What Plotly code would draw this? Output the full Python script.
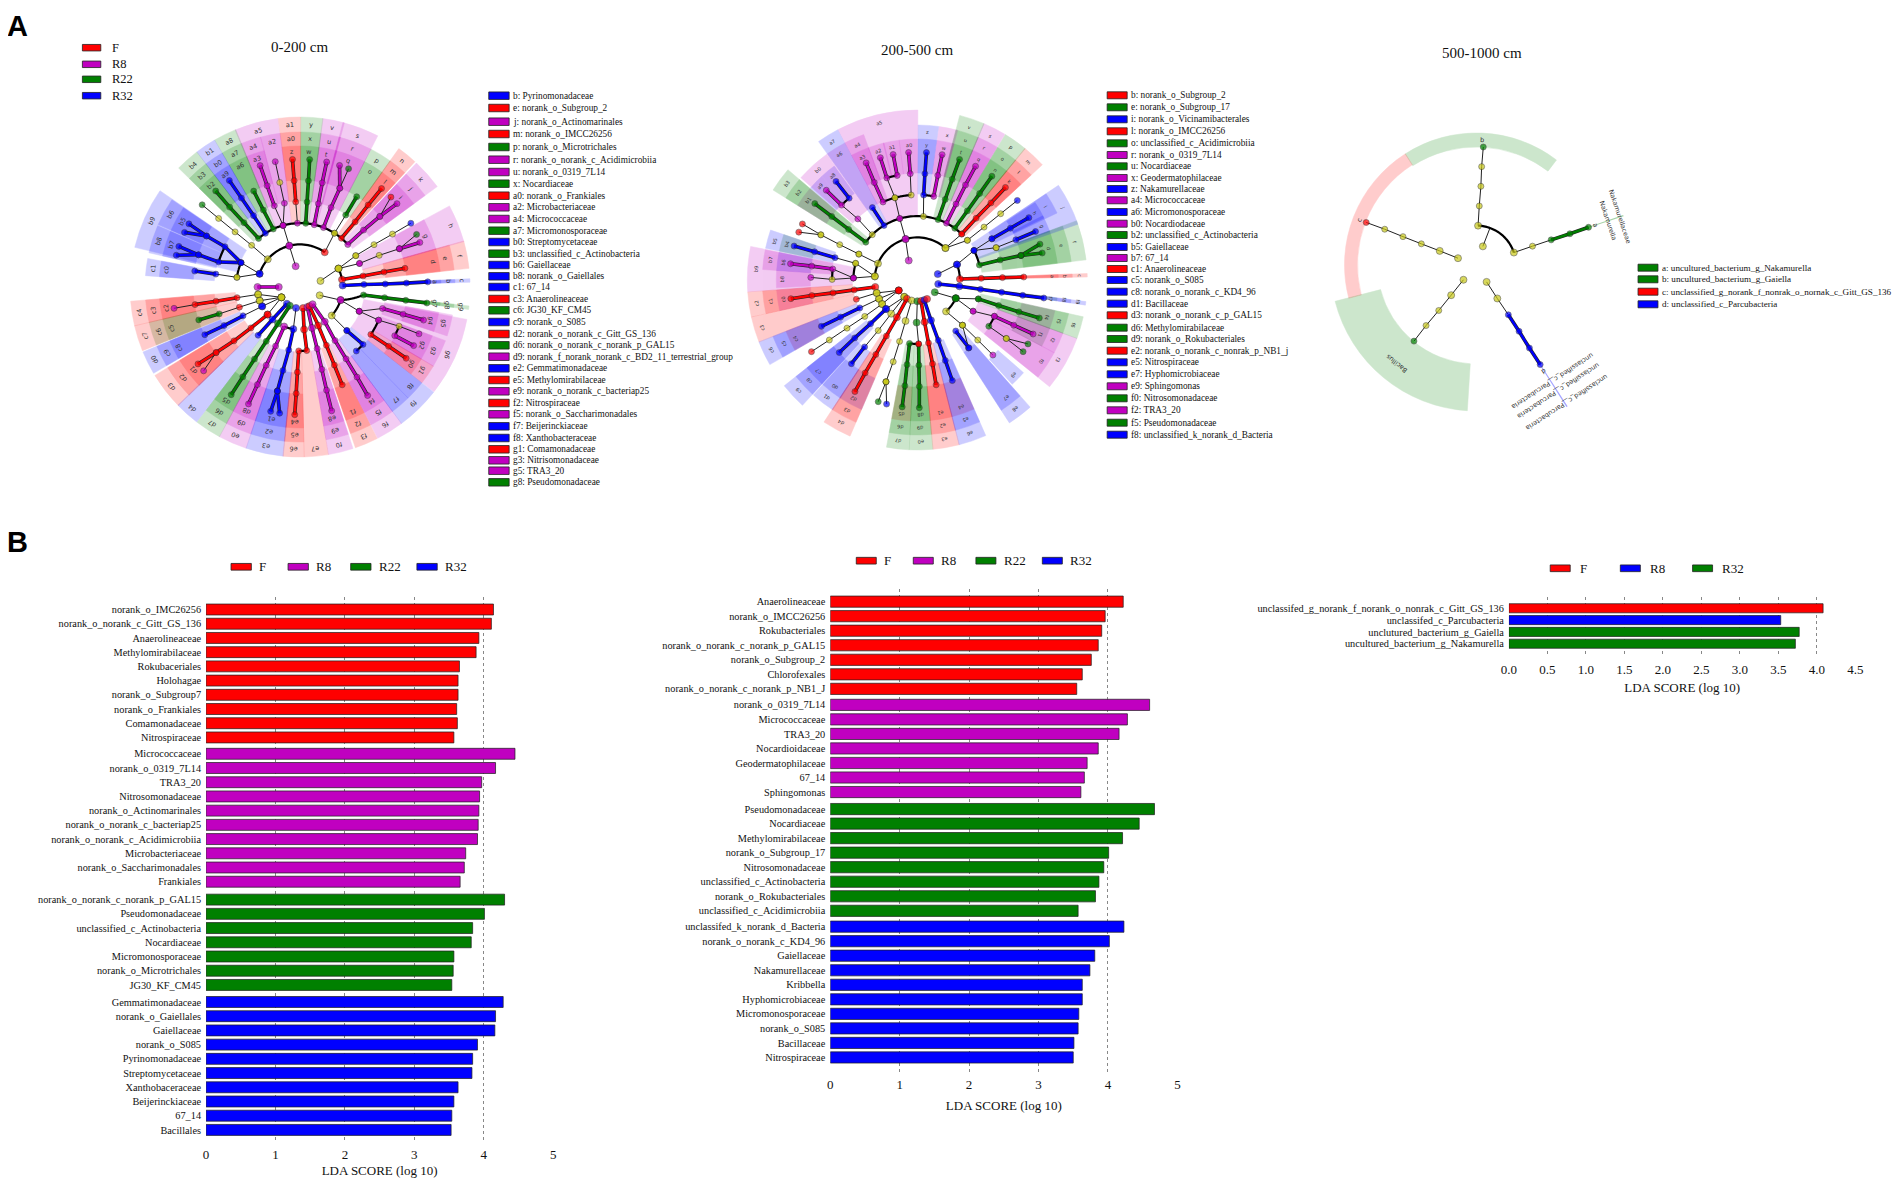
import numpy as np
import plotly.graph_objects as go

# the page body keeps its 8px margin
W, H = 1902, 1186
PAD = 8
FIG_W = W - PAD
FIG_H = H - 2 * PAD
XS = 0.9912  # horizontal calibration against the reference
XO = 8.1
SERIF = "Liberation Serif"
SANS = "DejaVu Sans"
colors = {"r": "#ff0000", "p": "#c000c0", "g": "#008000", "b": "#0000ff", "y": "#c8c818"}

# ---------- LDA bars ----------
b1_names = [["norank_o_IMC26256", "norank_o_norank_c_Gitt_GS_136", "Anaerolineaceae", "Methylomirabilaceae", "Rokubaceriales",
             "Holohagae", "norank_o_Subgroup7", "norank_o_Frankiales", "Comamonadaceae", "Nitrospiraceae"],
            ["Micrococcaceae", "norank_o_0319_7L14", "TRA3_20", "Nitrosomonadaceae", "norank_o_Actinomarinales",
             "norank_o_norank_c_bacteriap25", "norank_o_norank_c_Acidimicrobiia", "Microbacteriaceae",
             "norank_o_Saccharimonadales", "Frankiales"],
            ["norank_o_norank_c_norank_p_GAL15", "Pseudomonadaceae", "unclassified_c_Actinobacteria", "Nocardiaceae",
             "Micromonosporaceae", "norank_o_Microtrichales", "JG30_KF_CM45"],
            ["Gemmatimonadaceae", "norank_o_Gaiellales", "Gaiellaceae", "norank_o_S085", "Pyrinomonadaceae",
             "Streptomycetaceae", "Xanthobaceraceae", "Beijerinckiaceae", "67_14", "Bacillales"]]
b1_vals = [[4.14, 4.11, 3.93, 3.89, 3.65, 3.63, 3.63, 3.61, 3.62, 3.57],
           [4.45, 4.17, 3.97, 3.94, 3.93, 3.92, 3.91, 3.74, 3.72, 3.66],
           [4.30, 4.01, 3.84, 3.82, 3.57, 3.56, 3.54],
           [4.28, 4.17, 4.16, 3.91, 3.84, 3.83, 3.63, 3.57, 3.54, 3.53]]
b1_gaps = [0.0, 0.15, 0.26, 0.2]

b2_names = [["Anaerolineaceae", "norank_o_IMCC26256", "Rokubacteriales", "norank_o_norank_c_norank_p_GAL15", "norank_o_Subgroup_2",
             "Chlorofexales", "norank_o_norank_c_norank_p_NB1_J"],
            ["norank_o_0319_7L14", "Micrococcaceae", "TRA3_20", "Nocardioidaceae", "Geodermatophilaceae", "67_14", "Sphingomonas"],
            ["Pseudomonadaceae", "Nocardiaceae", "Methylomirabilaceae", "norank_o_Subgroup_17", "Nitrosomonadaceae",
             "unclassified_c_Actinobacteria", "norank_o_Rokubacteriales", "unclassified_c_Acidimicrobiia"],
            ["unclassifed_k_norank_d_Bacteria", "norank_o_norank_c_KD4_96", "Gaiellaceae", "Nakamurellaceae", "Kribbella",
             "Hyphomicrobiaceae", "Micromonosporaceae", "norank_o_S085", "Bacillaceae", "Nitrospiraceae"]]
b2_vals = [[4.22, 3.96, 3.91, 3.86, 3.76, 3.63, 3.55],
           [4.60, 4.28, 4.16, 3.86, 3.70, 3.66, 3.61],
           [4.67, 4.45, 4.21, 4.01, 3.94, 3.87, 3.82, 3.57],
           [4.23, 4.02, 3.81, 3.74, 3.63, 3.63, 3.58, 3.57, 3.51, 3.50]]
b2_gaps = [0.0, 0.1, 0.17, 0.09]

b3_names = [["unclassifed_g_norank_f_norank_o_nonrak_c_Gitt_GS_136"], ["unclassifed_c_Parcubacteria"],
            ["unclutured_bacterium_g_Gaiella", "uncultured_bacterium_g_Nakamurella"]]
b3_vals = [[4.08], [3.53], [3.77, 3.72]]
b3_gaps = [0.0, 0.0, 0.0]

# ---------- cladogram 0-200 cm: highlighted sectors ----------
c1_label = ("a b c d e f g h i j k l m n o p q r s t u v w x y z a0 a1 a2 a3 a4 a5 a6 a7 a8 a9 b0 b1 b2 b3 b4 b5 b6 b7 b8 b9 c0 c1 "
            "c2 c3 c4 c5 c6 c7 c8 c9 d0 d1 d2 d3 d4 d5 d6 d7 d8 d9 e0 e1 e2 e3 e4 e5 e6 e7 e8 e9 f0 f1 f2 f3 f4 f5 f6 f7 f8 f9 "
            "g0 g1 g2 g3 g4 g5 g6 g7 g8 g9").split()
c1_theta = [87.8, 87.8, 87.8, 79, 79, 79, 68, 68, 48.5, 48.5, 48.5, 39, 39, 39, 31.4, 31.4, 20.9, 20.9, 20.9,
            11.4, 11.4, 11.4, 4, 4, 4, -3.6, -3.6, -3.6, -11.1, -18.5, -18.5, -15, -26.2, -26.2, -26.2,
            -33.8, -33.8, -33.8, -41.5, -41.5, -41.5, -61, -61, -72, -72, -66, -82.6, -82.6,
            -99, -99, -99, -107.6, -107.6, -107.6, -116.5, -116.5, -116.5, -127.8, -127.8, -127.8, -138.3,
            -147.2, -147.2, -147.2, -156.6, -156.6, -156.6, -167.9, -167.9, -167.9, -177.8, -177.8, -177.8, 174.5,
            166.1, 166.1, 166.1, 157, 157, 157, 148.1, 148.1, 148.1, 139.6, 132, 135.8,
            124.4, 124.4, 115.5, 115.5, 104.4, 104.4, 114.5, 97, 97, 97]
c1_width = [1.2, 1.2, 1.2, 9.4, 9.4, 9.4, 13, 13, 10.6, 10.6, 10.6, 7, 7, 7, 8.4, 8.4, 12.6, 12.6, 12.6,
            7.4, 7.4, 7.4, 7.5, 7.5, 7.5, 7.6, 7.6, 7.6, 7.4, 7.5, 7.5, 14.9, 7.9, 7.9, 7.9,
            7.2, 7.2, 7.2, 8.2, 8.2, 8.2, 10.5, 10.5, 10.5, 10.5, 21, 6.4, 6.4,
            8.4, 8.4, 8.4, 8.8, 8.8, 8.8, 8, 8, 8, 12.9, 12.9, 12.9, 8.5,
            9, 9, 9, 9.8, 9.8, 9.8, 12.8, 12.8, 12.8, 7.2, 7.2, 7.2, 8.2,
            8.5, 8.5, 8.5, 8, 8, 8, 9.4, 9.4, 9.4, 7.6, 7.6, 15.2,
            7.5, 7.5, 10.5, 10.5, 8, 8, 27, 1.2, 1.2, 1.2]
c1_row = [1, 2, 3, 1, 2, 3, 1, 3, 1, 2, 3, 1, 2, 3, 1, 2, 1, 2, 3,
          1, 2, 3, 1, 2, 3, 1, 2, 3, 2, 1, 2, 3, 1, 2, 3,
          1, 2, 3, 1, 2, 3, 1, 2, 1, 2, 3, 1, 2,
          1, 2, 3, 1, 2, 3, 1, 2, 3, 1, 2, 3, 3,
          1, 2, 3, 1, 2, 3, 1, 2, 3, 1, 2, 3, 3,
          1, 2, 3, 1, 2, 3, 1, 2, 3, 2, 2, 3,
          1, 2, 1, 2, 1, 2, 3, 1, 2, 3]
c1_group = ("bbb rrr pp ppp rrr gg ppp ppp ggg rrr p pp p ggg bbb ggg bb bb b bb "
            "rrr ggr bbb rrr b ggg ppp bbb rrr r ppp rrr ppp bb b rr pp pp p ggg").replace(" ", "")

# tree: node colours (upper case = thick branch into that node), first level, angle of each node
c1_chains = [("yyyyg", 2, [-49.3, -49.3, -49.7, -49.9, -50]), ("gGGG", 3, [-40.5, -41.1, -41.4, -41.3]),
             ("bBBB", 3, [-32.9, -33.1, -33.4, -33.6]), ("gGG", 3, [-24.8, -25.5, -25.8]),
             ("pp", 1, [-12, -14.6]), ("pp", 2, [-14.6, -15.4]), ("ppPP", 3, [-15.4, -17.6, -18, -18.2]),
             ("ppyp", 3, [-15.4, -10.6, -11, -11.2]), ("prRR", 3, [-2.4, -2.9, -3.2, -3.4]),
             ("gGGG", 3, [5.1, 4.7, 4.5, 4.3]), ("pPPP", 3, [12.8, 12.4, 12, 12]), ("pPPP", 3, [21.5, 21.3, 21.9, 18]),
             ("pg", 5, [21.9, 22.3]), ("ry", 2, [35.4, 32.6]), ("ygG", 3, [32.6, 32.4, 32.1]),
             ("rRRR", 3, [40.3, 40.2, 39.7, 39.6]), ("pPPP", 3, [48.3, 48.1, 48.5, 49.3]), ("pr", 5, [48.5, 45.3]),
             ("by", 2, [-71.9, -81.3]), ("bb", 2, [-71.9, -67.6]), ("bBBB", 3, [-67.6, -61.8, -61.4, -60.4]),
             ("bB", 5, [-61.4, -64.7]), ("bBBB", 3, [-67.6, -72.9, -72.4, -71.5]), ("bB", 5, [-72.4, -75.6]),
             ("ybB", 3, [-81.3, -81.3, -81.4]), ("yy", 1, [73.4, 64.4]), ("yy", 2, [64.4, 60.6]),
             ("yyyb", 3, [60.6, 60.2, 60.2, 60.1]), ("yp", 2, [64.4, 68.4]), ("pyp", 3, [68.4, 68.2, 68.9]),
             ("pg", 5, [68.9, 65.7]), ("pP", 5, [68.9, 69.6]), ("rRRR", 2, [80, 80.1, 79.9, 79.9]),
             ("bBBBB", 2, [88, 87.7, 88, 87.9, 87.7]), ("gGGG", 3, [97.2, 97.2, 97.2, 97.2]), ("yp", 1, [113, 107.9]),
             ("pp", 2, [107.9, 112.3]), ("yb", 2, [132, 133]), ("bB", 3, [133, 132.4]), ("b", 4, [138.7]),
             ("ppPP", 3, [112.3, 104.6, 104.8, 105]), ("pp", 3, [112.3, 112.9]), ("pyp", 4, [112.9, 111.6, 111.5]),
             ("pP", 5, [117.2, 117.3]), ("rRR", 4, [123.8, 123.8, 123.9]), ("pP", 1, [-90, -90]),
             ("yy", 1, [-119, -100]), ("yy", 1, [-119, -108.7]), ("yb", 1, [-119, -117]), ("yr", 1, [-119, -130.3]),
             ("yrRRp", 2, [-100, -99.6, -99.6, -99.5, -99.6]), ("yrgG", 2, [-108.7, -108.4, -108.4, -108]),
             ("bbBB", 2, [-117, -116.8, -116.9, -116.6]), ("rRRRR", 2, [-130.3, -129.8, -129.2, -128, -127]),
             ("rp", 5, [-128, -131]), ("bBB", 1, [-141.8, -139.6, -139]),
             ("gGGGGG", 1, [-151.3, -148.9, -148.1, -147.7, -147.5, -147.4]),
             ("bbBBB", 1, [-169, -170.9, -169.8, -168.4, -167.7]), ("bB", 5, [-167.7, -166.7]), ("bB", 5, [-167.7, -170.8]),
             ("pPPPP", 2, [-158, -157.5, -156.6, -156.4, -156.2]), ("rRR", 1, [172, 174.6, 174]),
             ("rRRR", 3, [-178.8, -178.2, -177.9, -177.6]), ("pPPPPP", 1, [160, 163.8, 164.5, 165.2, 165.6, 165.7]),
             ("rRRRR", 1, [153.8, 154.8, 155.7, 156.3, 156.7]), ("pPPPPP", 1, [144, 144.6, 146.9, 147.4, 147.7, 148.1])]
# black arcs: level, angle, level, angle
c1_arcs = [(2, -71.9, 2, 35.4), (3, -41, 3, 48.3), (3, -81.3, 3, -67.6), (2, 64.4, 2, 80), (2, 107.9, 3, 97.2),
           (2, 107.9, 2, 132), (4, 132.4, 4, 138.7), (4, 112.9, 4, 123.8), (5, 111.6, 5, 117.2),
           (2, -170.9, 2, -158), (3, 174, 3, 181.2), (4, -61.8, 4, -72.9)]

c1_leg = ["b: Pyrinomonadaceae", "e: norank_o_Subgroup_2", "j: norank_o_Actinomarinales", "m: norank_o_IMCC26256",
          "p: norank_o_Microtrichales", "r: norank_o_norank_c_Acidimicrobiia", "u: norank_o_0319_7L14", "x: Nocardiaceae",
          "a0: norank_o_Frankiales", "a2: Microbacteriaceae", "a4: Micrococcaceae", "a7: Micromonosporaceae",
          "b0: Streptomycetaceae", "b3: unclassified_c_Actinobacteria", "b6: Gaiellaceae", "b8: norank_o_Gaiellales",
          "c1: 67_14", "c3: Anaerolineaceae", "c6: JG30_KF_CM45", "c9: norank_o_S085", "d2: norank_o_norank_c_Gitt_GS_136",
          "d6: norank_o_norank_c_norank_p_GAL15", "d9: norank_f_norank_norank_c_BD2_11_terrestrial_group",
          "e2: Gemmatimonadaceae", "e5: Methylomirabilaceae", "e9: norank_o_norank_c_bacteriap25", "f2: Nitrospiraceae",
          "f5: norank_o_Saccharimonadales", "f7: Beijerinckiaceae", "f8: Xanthobacteraceae", "g1: Comamonadaceae",
          "g3: Nitrisomonadaceae", "g5: TRA3_20", "g8: Pseudomonadaceae"]
c1_leg_group = "brprgppgrppgbgbbbrgbrgpbrprpbbrppg"

# ---------- cladogram 200-500 cm ----------
c2_label = ("a b c d e f g h i j k l m n o p q r s t u v w x y z a0 a1 a2 a3 a4 a5 a6 a7 a8 a9 b0 b1 b2 b3 b4 b5 b6 b7 b8 b9 "
            "c0 c1 c2 c3 c4 c5 c6 c7 c8 c9 d0 d1 d2 d3 d4 d5 d6 d7 d8 d9 e0 e1 e2 e3 e4 e5 e6 e7 e8 e9 f0 f1 f2 f3 f4 f5 f6 "
            "f7 f8 f9").split()
c2_theta = [88.4, 88.4, 88.4, 76.4, 76.4, 76.4, 66.4, 60.3, 60.3, 63.5, 43.3, 43.3, 43.3, 35.3, 35.3, 35.3, 27, 27, 27,
            18.8, 18.8, 18.8, 11.6, 11.6, 4.1, 4.1, -3.7, -10.7, -17, -24, -24, -13.8, -31.7, -31.7, -39.3, -46, -42.2,
            -53.8, -53.8, -53.8, -74.7, -74.7, -82.4, -82.4, -89.7, -86.3,
            -98.3, -98.3, -98.3, -107, -115.6, -115.6, -115.6, -133, -133, -133, -142.4, -142.4,
            -151.7, -151.7, -151.7, -173.4, -173.4, -173.4, 178.7, 178.7, 178.7, 170.2, 170.2, 170.2, 161, 161, 161,
            142.8, 142.8, 134.4, 123.4, 114, 114, 119.5, 106.3, 106.3, 106.3, 97.9, 97.9, 97.9]
c2_width = [1.2, 1.2, 1.2, 13.6, 13.6, 13.6, 7, 7.2, 8.2, 14.7, 8.1, 8.1, 8.1, 8.2, 8.2, 8.2, 8, 8, 8,
            8.7, 8.7, 8.7, 7, 7, 7.6, 7.6, 7.4, 6.6, 6.6, 7.5, 7.5, 28, 7.6, 7.6, 6.5, 6.5, 13,
            8.5, 8.5, 8.5, 7, 7, 7.4, 7.4, 7, 15.4,
            8.5, 8.5, 8.5, 8.8, 8.5, 8.5, 8.5, 9, 9, 9, 9, 9,
            10, 10, 10, 7.7, 7.7, 7.7, 8, 8, 8, 9, 9, 9, 9.5, 9.5, 9.5,
            8.8, 8.8, 6.6, 10.9, 8, 8, 18.8, 7.6, 7.6, 7.6, 1.2, 1.2, 1.2]
c2_row = [1, 2, 3, 1, 2, 3, 1, 1, 2, 3, 1, 2, 3, 1, 2, 3, 1, 2, 3,
          1, 2, 3, 1, 2, 1, 2, 1, 1, 1, 1, 2, 3, 2, 3, 1, 1, 2,
          1, 2, 3, 1, 2, 1, 2, 1, 3,
          1, 2, 3, 3, 1, 2, 3, 1, 2, 3, 1, 2,
          1, 2, 3, 1, 2, 3, 1, 2, 3, 1, 2, 3, 1, 2, 3,
          2, 3, 1, 2, 1, 2, 3, 1, 2, 3, 1, 2, 3]
c2_group = ("rrr ggg bb bb rrr ggg ppp ggg pp bb ppp ppp p bb bp p ggg bb pp p p "
            "rrr r bbb bbb bb rrr ggg ggr rrr bbb bb p g pp p ggg bbb").replace(" ", "")

c2_chains = [("pp", 1, [-23.7, -16]), ("pp", 2, [-16, -15.9]), ("yy", 2, [-67.3, -66.1]),
             ("yyyr", 3, [-66.1, -65.5, -64.9, -64]), ("yr", 5, [-64.9, -68]), ("gGGG", 3, [-53.7, -53.6, -53.4, -53.3]),
             ("yppP", 3, [-44.8, -44.2, -45.3, -45.4]), ("bB", 5, [-39.8, -39.5]), ("bB", 3, [-31.4, -31.8]),
             ("py", 3, [-15.9, -15.2]), ("pPP", 4, [-23.7, -23.8, -23.6]), ("ypP", 4, [-15.2, -16.6, -16.8]),
             ("pP", 5, [-10.9, -10.9]), ("ypP", 4, [-4.1, -3.8, -3.9]), ("ybBB", 3, [5.5, 4.3, 4.1, 4.1]),
             ("pPP", 4, [11.1, 11.1, 11.2]), ("gGGG", 3, [19, 19.1, 19.1, 19.3]), ("pPPP", 3, [27.2, 27, 26.9, 27.1]),
             ("gGGG", 3, [36, 35.9, 35.8, 35.7]), ("rRRR", 3, [44, 43.6, 43.7, 43.6]), ("yyyb", 3, [51.6, 51.6, 51.5, 51.5]),
             ("yr", 2, [41.4, 44]), ("yy", 2, [41.4, 51.6]), ("bb", 1, [73.9, 68.7]), ("bb", 2, [68.7, 62.5]),
             ("rRRR", 2, [88.7, 88.5, 88.4, 88.4]), ("bb", 3, [62.5, 61.1]), ("bBB", 4, [61.1, 60.9, 60.8]),
             ("by", 3, [62.5, 67.7]), ("ybB", 4, [67.7, 67.8, 67.7]), ("gGG", 3, [76.4, 76.4, 76.7]),
             ("gG", 5, [76.7, 73.7]), ("gG", 5, [76.7, 77.8]), ("yy", 2, [-85.1, -74.9]),
             ("ybBB", 3, [-74.9, -74.8, -74.6, -74.6]), ("yp", 2, [-85.1, -88.2]), ("ppPP", 3, [-88.2, -82.6, -82.5, -82.7]),
             ("pyp", 3, [-88.2, -89.6, -88.6]), ("rRRRR", 2, [-99.4, -98.9, -98.7, -98.4, -98.4]),
             ("ry", 1, [-119.3, -116.2]), ("ry", 1, [-119.3, -107.7]), ("ry", 1, [-119.3, -124.3]),
             ("ybBB", 2, [-116.2, -115.9, -115.8, -115.8]), ("yr", 2, [-107.7, -107.5]),
             ("yyyyr", 2, [-124.3, -124.7, -124.4, -124.3, -124.1]), ("yb", 1, [-142.3, -132.8]),
             ("bBBB", 2, [-132.8, -133.1, -132.8, -132.9]), ("yyybB", 1, [-142.3, -142.2, -142.3, -141.8, -141.8]),
             ("rRRRRR", 1, [-151, -151.3, -151.1, -150.9, -150.7, -150.8]), ("yyyyy", 1, [-164.5, -164, -163.9, -163.6, -162.9]),
             ("yg", 5, [-162.9, -162.2]), ("yb", 5, [-162.9, -166.1]), ("ggr", 1, [180, 180.9, 178.8]),
             ("gGGG", 3, [187, 186.9, 186.7, 186.8]), ("rGGG", 3, [178.8, 178.9, 178.9, 179.1]),
             ("rRRRR", 1, [169.8, 170.2, 169.9, 169.7, 169.8]), ("bBBBB", 1, [160.8, 161.3, 160.8, 160.8, 160.8]),
             ("r", 1, [152.7]), ("bBBBBB", 1, [100.9, 98.5, 98.4, 98.3, 98.3, 98.1]), ("gg", 1, [124.9, 115.4]),
             ("gg", 2, [115.4, 107.2]), ("gGGG", 3, [107.2, 107.4, 107.4, 107.3]), ("gp", 2, [115.4, 119.2]),
             ("pp", 3, [119.2, 115.2]), ("pPP", 4, [115.2, 115.1, 115]), ("gyg", 4, [122.9, 123.3, 120]),
             ("yg", 5, [123.3, 124.1]), ("yy", 2, [137.5, 135]), ("yb", 3, [135, 143]), ("bB", 3, [143, 142.7]),
             ("yyp", 3, [135, 134.8, 134.8])]
c2_arcs = [(2, -85.1, 2, 41.4), (3, -53.7, 3, 44), (3, -74.9, 3, -88.2), (4, -82.6, 4, -89.6), (2, 68.7, 2, 88.7),
           (3, 62.5, 3, 76.4), (5, -45.3, 5, -39.8), (4, -23.7, 4, -4.1), (5, -16.6, 5, -10.9), (4, 4.3, 4, 11.1),
           (2, 115.4, 2, 137.5), (4, 115.2, 4, 122.9), (3, 178.8, 3, 187)]

c2_leg = ["b: norank_o_Subgroup_2", "e: norank_o_Subgroup_17", "i: norank_o_Vicinamibacterales", "l: norank_o_IMCC26256",
          "o: unclassified_c_Acidimicrobiia", "r: norank_o_0319_7L14", "u: Nocardiaceae", "x: Geodermatophilaceae",
          "z: Nakamurellaceae", "a4: Micrococcaceae", "a6: Micromonosporaceae", "b0: Nocardiodaceae",
          "b2: unclassified_c_Actinobacteria", "b5: Gaiellaceae", "b7: 67_14", "c1: Anaerolineaceae", "c5: norank_o_S085",
          "c8: norank_o_norank_c_KD4_96", "d1: Bacillaceae", "d3: norank_o_norank_c_p_GAL15", "d6: Methylomirabilaceae",
          "d9: norank_o_Rokubacteriales", "e2: norank_o_norank_c_nonrak_p_NB1_j", "e5: Nitrospiraceae",
          "e7: Hyphomicrobiaceae", "e9: Sphingomonas", "f0: Nitrosomonadaceae", "f2: TRA3_20", "f5: Pseudomonadaceae",
          "f8: unclassified_k_norank_d_Bacteria"]
c2_leg_group = "rgbrgpgpbpbpgbprbbbrggrbbpgpgb"

# ---------- cladogram 500-1000 cm ----------
c3_sector_theta = [2.3, -68.6, -140.4]
c3_sector_width = [70, 72, 72]
c3_sector_inner = [118, 119, 99]
c3_sector_outer = [132, 132, 146]
c3_sector_group = "grg"
c3_thin_theta = [71.4, 147.4]
c3_thin_outer = [155, 168]
c3_thin_group = "gb"
c3_chains = [("yyyyg", 2, [2.3, 2.7, 3.2, 3, 3.3]), ("y", 1, [18.9]), ("yygGG", 2, [71.6, 71.4, 71.4, 71.5, 71.4]),
             ("yybBBB", 1, [149.1, 148.1, 147.4, 147.3, 147.5, 147.4]), ("yyyyg", 1, [-138.6, -140, -140.3, -140.2, -140.6]),
             ("yyyyyr", 1, [-69.8, -69, -69, -68.9, -68.7, -68.9])]
c3_arcs = [(2, 2.3, 2, 71.6)]
c3_text = ["a", "b", "c", "d", "Nakamurella", "Nakamurellaceae", "Bacillus",
           "unclassified_c__Parcubacteria", "unclassified_c__Parcubacteria", "unclassified_c__Parcubacteria"]
c3_text_theta = [71.5, 2.3, -69, 147.5, 71.5, 71.5, -141, 146.8, 147, 146.8]
c3_text_r = [125, 125, 125, 125, 138.5, 151, 127, 138, 150, 164]
c3_leg = ["a: uncultured_bacterium_g_Nakamurella", "b: uncultured_bacterium_g_Gaiella",
          "c: unclassified_g_norank_f_nonrak_o_nornak_c_Gitt_GS_136", "d: unclassified_c_Parcubacteria"]
c3_leg_group = "ggrb"


def px(x):
    return ((x - XO) / XS - PAD) / FIG_W


def py(y):
    return 1 - (y - PAD) / FIG_H


shapes = []
annotations = []


def text(x, y, s, size, anchor="left", family=SERIF, angle=0, color="#111111"):
    annotations.append(dict(x=px(x), y=py(y), xref="paper", yref="paper", text=s, showarrow=False, xanchor=anchor,
                            yanchor="middle", textangle=angle, borderpad=0,
                            font=dict(family=family, size=size, color=color)))


def box(x0, x1, y, h, color):
    shapes.append(dict(type="rect", xref="paper", yref="paper", x0=px(x0), x1=px(x1), y0=py(y - h / 2), y1=py(y + h / 2),
                       fillcolor=color, line=dict(color="#222222", width=0.8)))


fig = go.Figure()


# bar panels
def bar_panel(n, names, vals, gaps, groups, xd, yd, xr, yr, xtick, size, standoff):
    off, i = 0, 0
    ticks, labels = [], []
    for g in range(len(names)):
        off += gaps[g]
        ys = [i + k + off for k in range(len(names[g]))]
        i += len(names[g])
        fig.add_trace(go.Bar(x=vals[g], y=ys, orientation="h", width=0.77, xaxis="x" + n, yaxis="y" + n,
                             marker=dict(color=colors[groups[g]], line=dict(color="rgba(30,30,30,0.8)", width=0.9)),
                             showlegend=False))
        ticks += ys
        labels += names[g]
    fig.layout["xaxis" + n] = dict(domain=[px(xd[0]), px(xd[1])], range=xr, anchor="y" + n, tickvals=xtick,
                                   ticktext=[("%.1f" % v if len(xtick) > 6 else "%d" % v) for v in xtick],
                                   showgrid=True, griddash="dot", gridcolor="#888888", gridwidth=1, zeroline=False,
                                   ticks="", showline=False, ticklabelstandoff=3,
                                   tickfont=dict(family=SERIF, size=13, color="#111111"),
                                   title=dict(text="LDA SCORE (log 10)", standoff=standoff,
                                              font=dict(family=SERIF, size=13, color="#111111")))
    fig.layout["yaxis" + n] = dict(domain=[py(yd[1]), py(yd[0])], range=yr, anchor="x" + n, tickvals=ticks, ticktext=labels,
                                   showgrid=False, zeroline=False, ticks="", showline=False, ticklabelstandoff=4,
                                   tickfont=dict(family=SERIF, size=size, color="#111111"))


bar_panel("", b1_names, b1_vals, b1_gaps, "rpgb", (206, 553), (597, 1142), [0, 5], [37.46, -0.88], [0, 1, 2, 3, 4, 5], 10.3, 7)
bar_panel("2", b2_names, b2_vals, b2_gaps, "rpgb", (830, 1177), (589, 1072), [0, 5], [32.36, -0.87], [0, 1, 2, 3, 4, 5], 10.3, 9)
bar_panel("3", b3_names, b3_vals, b3_gaps, "rbg", (1508.4, 1854.8), (596.7, 656.7), [0, 4.5], [4.1, -0.98],
          [0, 0.5, 1, 1.5, 2, 2.5, 3, 3.5, 4, 4.5], 10.3, 7)


# cladograms: one polar subplot each, 1 radial unit = 1 pixel
def polar_layout(name, cx, cy, rmax=180):
    fig.layout[name] = dict(domain=dict(x=[px(cx - rmax), px(cx + rmax)], y=[py(cy + rmax), py(cy - rmax)]),
                            bgcolor="rgba(0,0,0,0)", barmode="overlay",
                            angularaxis=dict(rotation=90, direction="clockwise", visible=False),
                            radialaxis=dict(range=[0, rmax], visible=False))


def draw_tree(sub, chains, arcs, step):
    thin_t, thin_r, thick_t, thick_r = [], [], {}, {}
    arc_t, arc_r = [], []
    node_t, node_r, node_c, node_s = [], [], [], []
    for code, first, thetas in chains:
        for i, th in enumerate(thetas):
            lev = first + i
            c = code[i]
            node_t.append(th)
            node_r.append(lev * step)
            node_c.append(colors[c.lower()])
            node_s.append(7 if lev <= 2 else 6)
            if i > 0:
                if c.isupper():
                    thick_t.setdefault(c.lower(), []).extend([thetas[i - 1], th, None])
                    thick_r.setdefault(c.lower(), []).extend([(lev - 1) * step, lev * step, None])
                else:
                    thin_t += [thetas[i - 1], th, None]
                    thin_r += [(lev - 1) * step, lev * step, None]
    for l0, t0, l1, t1 in arcs:
        arc_t += list(np.linspace(t0, t1, 40)) + [None]
        arc_r += list(np.linspace(l0, l1, 40) * step) + [None]
    fig.add_trace(go.Scatterpolar(theta=thin_t, r=thin_r, mode="lines", subplot=sub, showlegend=False,
                                  line=dict(color="#222222", width=1)))
    fig.add_trace(go.Scatterpolar(theta=arc_t, r=arc_r, mode="lines", subplot=sub, showlegend=False,
                                  line=dict(color="#000000", width=2.2)))
    for c in thick_t:
        fig.add_trace(go.Scatterpolar(theta=thick_t[c], r=thick_r[c], mode="lines", subplot=sub, showlegend=False,
                                      line=dict(color="#222222", width=3.6)))
        fig.add_trace(go.Scatterpolar(theta=thick_t[c], r=thick_r[c], mode="lines", subplot=sub, showlegend=False,
                                      line=dict(color=colors[c], width=2.4)))
    fig.add_trace(go.Scatterpolar(theta=node_t, r=node_r, mode="markers", subplot=sub, showlegend=False,
                                  marker=dict(color=node_c, size=node_s, line=dict(color="#222222", width=0.6))))


def draw_clado(sub, cx, cy, label, theta, width, row, group, chains, arcs, size):
    row_in = {1: 107, 2: 86, 3: 65}
    row_out = {1: 141, 2: 155, 3: 170}
    row_txt = {1: 135, 2: 148, 3: 162}
    polar_layout(sub, cx, cy)
    fig.add_trace(go.Barpolar(theta=theta, width=width, base=[row_in[k] for k in row],
                              r=[row_out[k] - row_in[k] for k in row], subplot=sub, showlegend=False,
                              marker=dict(color=[colors[g] for g in group], opacity=0.2,
                                          line=dict(color=[colors[g] for g in group], width=0.5))))
    draw_tree(sub, chains, arcs, 21.3)
    for s, t, k in zip(label, theta, row):
        a = np.radians(t)
        text(cx + row_txt[k] * np.sin(a), cy - row_txt[k] * np.cos(a), s, size, "center", SANS, t, "#333333")


draw_clado("polar", 300, 287, c1_label, c1_theta, c1_width, c1_row, c1_group, c1_chains, c1_arcs, 6.5)
draw_clado("polar2", 917, 280, c2_label, c2_theta, c2_width, c2_row, c2_group, c2_chains, c2_arcs, 5)

polar_layout("polar3", 1476, 265)
fig.add_trace(go.Barpolar(theta=c3_sector_theta, width=c3_sector_width, base=c3_sector_inner,
                          r=[o - i for o, i in zip(c3_sector_outer, c3_sector_inner)], subplot="polar3", showlegend=False,
                          marker=dict(color=[colors[g] for g in c3_sector_group], opacity=0.2,
                                      line=dict(color=[colors[g] for g in c3_sector_group], width=0.5))))
fig.add_trace(go.Barpolar(theta=c3_thin_theta, width=[0.5, 0.5], base=[118, 118],
                          r=[o - 118 for o in c3_thin_outer], subplot="polar3", showlegend=False,
                          marker=dict(color=[colors[g] for g in c3_thin_group], opacity=0.35, line=dict(width=0))))
fig.add_trace(go.Scatterpolar(theta=[18.9, 20], r=[19.7, 39.4], mode="lines", subplot="polar3", showlegend=False,
                              line=dict(color="#222222", width=1)))
draw_tree("polar3", c3_chains, c3_arcs, 19.7)
for s, t, r in zip(c3_text, c3_text_theta, c3_text_r):
    a = np.radians(t)
    text(1476 + r * np.sin(a), 265 - r * np.cos(a), s, 6.5, "center", SANS, t, "#333333")

# taxon lists
c1_leg_y = [95.7, 108, 121.7, 134, 147, 159.7, 172, 183.7, 195.7, 207.3, 219, 230.7, 242, 253.7, 265, 276.3, 287, 299,
            310.3, 322, 334, 345.3, 356.7, 368.3, 380, 391.3, 403, 414.3, 426.3, 438, 449.3, 460.3, 470.7, 482.3]
for s, g, y in zip(c1_leg, c1_leg_group, c1_leg_y):
    box(488.6, 509, y, 7.5, colors[g])
    text(512, y, s, 9.3)
c2_leg_y = [95.3, 107.3, 119.3, 131.3, 143.3, 155, 166.3, 178, 189, 200.3, 212, 223.7, 235, 247, 258, 269, 280, 291.7,
            303.7, 315.3, 327.7, 339, 350.7, 362.3, 374.3, 386.3, 398.3, 410.3, 422.7, 434.7]
for s, g, y in zip(c2_leg, c2_leg_group, c2_leg_y):
    box(1106.8, 1126.8, y, 7, colors[g])
    text(1129.3, y, s, 9.3)
c3_leg_y = [267.7, 279.3, 291.7, 304.3]
for s, g, y in zip(c3_leg, c3_leg_group, c3_leg_y):
    box(1637.5, 1657.4, y, 7, colors[g])
    text(1660, y, s, 9.1)

# group keys
for s, g, y in zip(["F", "R8", "R22", "R32"], "rpgb", [47.7, 64.3, 79.3, 95.7]):
    box(82.4, 100.8, y, 6.5, colors[g])
    text(110.5, y, s, 12.5)
for s, g, x in zip(["F", "R8", "R22", "R32"], "rpgb", [231, 288, 350.6, 416.8]):
    box(x, x + 20.3, 566.8, 6.7, colors[g])
    text(x + 27, 566.8, s, 13)
for s, g, x in zip(["F", "R8", "R22", "R32"], "rpgb", [856, 913, 975.6, 1042]):
    box(x, x + 20, 560.7, 6.7, colors[g])
    text(x + 27, 560.7, s, 13)
for s, g, x in zip(["F", "R8", "R32"], "rbg", [1549.7, 1619.8, 1692]):
    box(x, x + 20, 568.3, 6.7, colors[g])
    text(x + 28.5, 568.3, s, 13)

text(299, 47, "0-200 cm", 15, "center")
text(917, 49.7, "200-500 cm", 15, "center")
text(1482, 53, "500-1000 cm", 15, "center")
text(18, 26, "A", 29, "center", "Liberation Sans", color="#000000")
text(18, 542.5, "B", 29, "center", "Liberation Sans", color="#000000")
annotations[-1]["font"]["weight"] = "bold"
annotations[-2]["font"]["weight"] = "bold"

fig.update_layout(width=FIG_W, height=FIG_H, margin=dict(l=0, r=0, t=0, b=0), plot_bgcolor="white",
                  paper_bgcolor="white", shapes=shapes, annotations=annotations, showlegend=False, barmode="overlay")

fig.write_html("out.html")
